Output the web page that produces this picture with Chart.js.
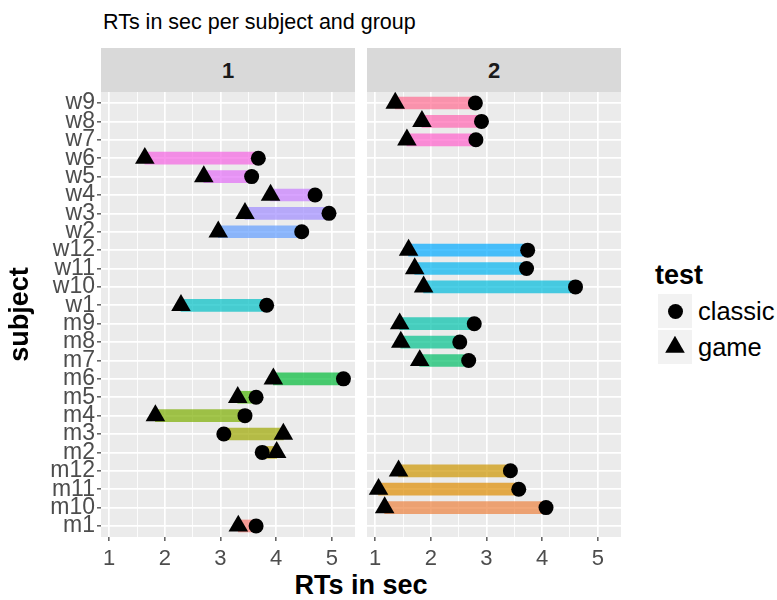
<!DOCTYPE html>
<html>
<head>
<meta charset="utf-8">
<title>RTs in sec per subject and group</title>
<script src="https://cdn.jsdelivr.net/npm/chart.js@4.4.0/dist/chart.umd.min.js"></script>
<style>
  html, body { margin: 0; padding: 0; background: #fff; }
  body { width: 777px; height: 600px; position: relative; overflow: hidden;
         font-family: "Liberation Sans", Arial, sans-serif; }
  .abs { position: absolute; white-space: nowrap; }
  #title { left: 103px; top: 8px; font-size: 21.5px; line-height: 28px; color: #000; }
  .strip { top: 48px; width: 254px; height: 44px; background: #D9D9D9; color: #1A1A1A;
           font-weight: bold; font-size: 22px; line-height: 46px; text-align: center; }
  #strip1 { left: 101px; }
  #strip2 { left: 367px; }
  #box1 { left: 0; top: 92px; width: 355px; height: 475px; }
  #box2 { left: 367px; top: 92px; width: 254px; height: 475px; }
  #xtitle { left: 101px; width: 520px; top: 569px; font-size: 27px; line-height: 32px;
            font-weight: bold; text-align: center; color: #000; }
  #legTitle { left: 655px; top: 259px; font-size: 27px; line-height: 32px; font-weight: bold; }
  .key { left: 658px; width: 34px; height: 34px; background: #F2F2F2; }
  .legLabel { left: 698px; font-size: 25.5px; line-height: 30px; color: #000; }
  #dot { left: 667.5px; top: 303.5px; width: 15px; height: 15px; border-radius: 50%; background: #000; }
  #tri { left: 665.2px; top: 335.7px; width: 19.6px; height: 17px; background: #000;
         clip-path: polygon(50% 0, 100% 100%, 0 100%); }
</style>
</head>
<body>
<div id="title" class="abs">RTs in sec per subject and group</div>
<div id="strip1" class="abs strip">1</div>
<div id="strip2" class="abs strip">2</div>
<div id="box1" class="abs"><canvas id="panel1"></canvas></div>
<div id="box2" class="abs"><canvas id="panel2"></canvas></div>
<div id="xtitle" class="abs">RTs in sec</div>
<div id="legTitle" class="abs">test</div>
<div class="abs key" style="top:294px"></div>
<div class="abs key" style="top:330px"></div>
<div id="dot" class="abs"></div>
<div id="tri" class="abs"></div>
<div class="abs legLabel" style="top:296px">classic</div>
<div class="abs legLabel" style="top:332px">game</div>

<script>
// subject factor levels, bottom to top
const subjects = ["m1", "m10", "m11", "m12", "m2", "m3", "m4", "m5", "m6", "m7", "m8", "m9",
                  "w1", "w10", "w11", "w12", "w2", "w3", "w4", "w5", "w6", "w7", "w8", "w9"];

// group 1
const group1Subjects = ["m1", "m2", "m3", "m4", "m5", "m6", "w1", "w2", "w3", "w4", "w5", "w6"];
const group1Classic  = [3.64, 3.75, 3.06, 3.44, 3.64, 5.21, 3.83, 4.46, 4.95, 4.70, 3.56, 3.68];
const group1Game     = [3.32, 4.01, 4.13, 1.83, 3.31, 3.95, 2.29, 2.96, 3.44, 3.90, 2.70, 1.64];

// group 2
const group2Subjects = ["m10", "m11", "m12", "m7", "m8", "m9", "w10", "w11", "w12", "w7", "w8", "w9"];
const group2Classic  = [4.07, 3.58, 3.43, 2.68, 2.52, 2.78, 4.60, 3.72, 3.74, 2.81, 2.91, 2.80];
const group2Game     = [1.17, 1.06, 1.42, 1.80, 1.46, 1.44, 1.87, 1.71, 1.60, 1.57, 1.84, 1.36];

const xTicks = [1, 2, 3, 4, 5];

// ggplot-like limits: 5% expansion of the data range, 0.6 for the discrete axis
const allValues = [].concat(group1Classic, group1Game, group2Classic, group2Game);
const dataMin = Math.min(...allValues), dataMax = Math.max(...allValues);
const xPad = (dataMax - dataMin) * 0.05;
const xMin = dataMin - xPad, xMax = dataMax + xPad;

// major + minor breaks
const xBreaks = [];
xTicks.forEach((t, i) => { xBreaks.push(t); if (i < xTicks.length - 1) xBreaks.push(t + 0.5); });

// hue_pal(): hcl(h, 100, 65)
function hcl(h, c, l, alpha) {
    const hr = h * Math.PI / 180;
    const U = c * Math.cos(hr), V = c * Math.sin(hr);
    const Y = Math.pow((l + 16) / 116, 3);
    const Xn = 0.95047, Yn = 1, Zn = 1.08883;
    const den = Xn + 15 * Yn + 3 * Zn;
    const u = U / (13 * l) + 4 * Xn / den;
    const v = V / (13 * l) + 9 * Yn / den;
    const X = 9 * Y * u / (4 * v);
    const Z = -X / 3 - 5 * Y + 3 * Y / v;
    const lin = [
        3.240479 * X - 1.537150 * Y - 0.498535 * Z,
        -0.969256 * X + 1.875992 * Y + 0.041556 * Z,
        0.055648 * X - 0.204043 * Y + 1.057311 * Z,
    ];
    const rgb = lin.map(k => {
        const g = k <= 0.0031308 ? 12.92 * k : 1.055 * Math.pow(k, 1 / 2.4) - 0.055;
        return Math.round(Math.min(1, Math.max(0, g)) * 255);
    });
    return `rgba(${rgb[0]},${rgb[1]},${rgb[2]},${alpha})`;
}
function subjectColor(s) {
    const i = subjects.indexOf(s);
    return hcl(15 + 360 * i / subjects.length, 100, 65, 0.7);
}

const isMajor = c => !!c.tick && xTicks.includes(c.tick.value);
const FONT = "'Liberation Sans', Arial, sans-serif";

const panelBg = {
    id: "panelBg",
    beforeDraw(chart) {
        const a = chart.chartArea, c = chart.ctx;
        c.save();
        c.fillStyle = "#EBEBEB";
        c.fillRect(a.left, a.top, a.right - a.left, a.bottom - a.top);
        c.restore();
    },
};

function makePanel(id, names, classic, game, first) {
    const ctx = document.getElementById(id).getContext("2d");
    const yIdx = names.map(s => subjects.indexOf(s));
    return new Chart(ctx, {
        type: "bar",
        data: {
            datasets: [
                {
                    type: "scatter", label: "game", order: 1,
                    data: names.map((s, i) => ({ x: game[i], y: yIdx[i] })),
                    pointStyle: "triangle", pointRadius: 11.3, pointHoverRadius: 11.3,
                    pointBackgroundColor: "#000", pointBorderWidth: 0,
                },
                {
                    type: "scatter", label: "classic", order: 2,
                    data: names.map((s, i) => ({ x: classic[i], y: yIdx[i] })),
                    pointStyle: "circle", pointRadius: 7.5, pointHoverRadius: 7.5,
                    pointBackgroundColor: "#000", pointBorderWidth: 0,
                },
                {
                    type: "bar", label: "segment", order: 3, indexAxis: "y",
                    data: names.map((s, i) => ({ y: yIdx[i], x: [game[i], classic[i]] })),
                    backgroundColor: names.map(subjectColor),
                    borderWidth: 0, barThickness: 12,
                },
            ],
        },
        options: {
            indexAxis: "y",
            responsive: true, maintainAspectRatio: false, animation: false, events: [],
            layout: { padding: 0, autoPadding: false },
            plugins: { legend: { display: false }, tooltip: { enabled: false } },
            scales: {
                x: {
                    type: "linear", position: "bottom", min: xMin, max: xMax,
                    offset: false, bounds: "data", beginAtZero: false,
                    afterBuildTicks: s => { s.ticks = xBreaks.map(v => ({ value: v })); },
                    afterFit: s => { s.height = 30; s.paddingLeft = 0; s.paddingRight = 0; },
                    ticks: {
                        autoSkip: false, maxRotation: 0, padding: 5,
                        color: "#4D4D4D", font: { family: FONT, size: 22 },
                        callback: v => (xTicks.includes(v) ? String(v) : ""),
                    },
                    grid: {
                        offset: false, color: "#FFFFFF",
                        lineWidth: c => (c.tick && !isMajor(c) ? 0.85 : 1.7),
                        tickColor: c => (isMajor(c) ? "#333333" : "rgba(0,0,0,0)"),
                        tickLength: 4, tickWidth: 1.2,
                    },
                    border: { display: false },
                },
                y: {
                    type: "linear", position: "left", min: -0.6, max: subjects.length - 0.4,
                    offset: false, bounds: "data", beginAtZero: false,
                    afterBuildTicks: s => { s.ticks = subjects.map((n, i) => ({ value: i })); },
                    afterFit: s => { s.width = first ? 101 : 0; s.paddingTop = 0; s.paddingBottom = 0; },
                    ticks: {
                        display: first, autoSkip: false, padding: 2,
                        color: "#4D4D4D", font: { family: FONT, size: 23 },
                        callback: v => subjects[v],
                    },
                    grid: {
                        offset: false, color: "#FFFFFF", lineWidth: 1.7,
                        drawTicks: first, tickColor: "#333333", tickLength: 4, tickWidth: 1.2,
                    },
                    border: { display: false },
                    title: {
                        display: first, text: "subject", color: "#000",
                        font: { family: FONT, size: 27, weight: "bold" },
                        padding: { top: 4, bottom: 0 },
                    },
                },
            },
        },
        plugins: [panelBg],
    });
}

makePanel("panel1", group1Subjects, group1Classic, group1Game, true);
makePanel("panel2", group2Subjects, group2Classic, group2Game, false);
</script>
</body>
</html>
